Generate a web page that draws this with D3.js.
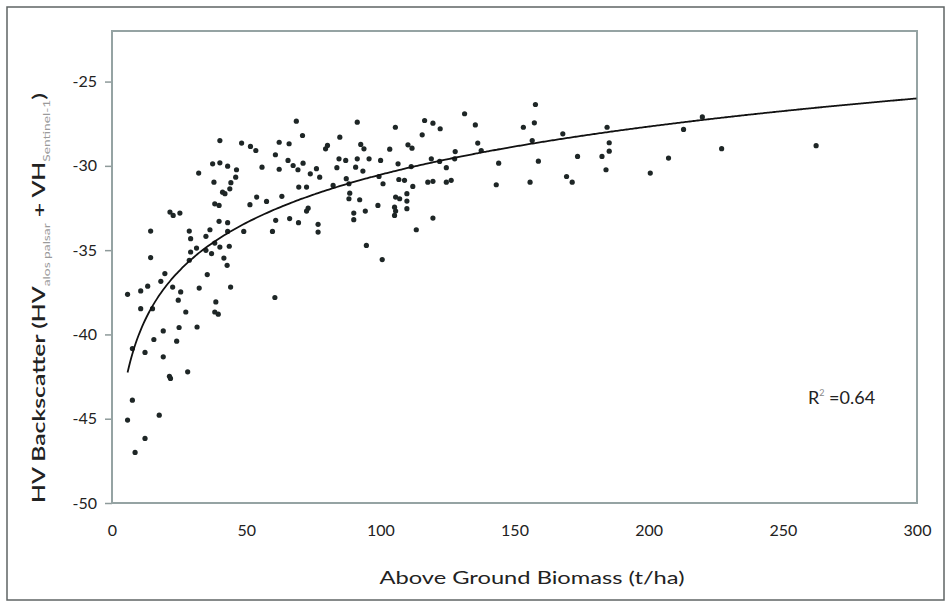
<!DOCTYPE html>
<html>
<head>
<meta charset="utf-8">
<script src="https://cdn.jsdelivr.net/npm/d3@7"></script>
<style>
  body { margin: 0; background: #fff; }
  svg text { font-family: Lato, "Open Sans", sans-serif; fill: #222; }
</style>
</head>
<body>
<svg id="main-svg" width="949" height="605"></svg>
<script>
// ----- //
// data
// ----- //
var biomass = [68.7, 91.4, 105.6, 71.0, 84.9, 40.2, 48.3, 51.6, 53.6, 62.3, 66.0, 80.3, 79.6, 92.7, 93.9, 103.5,
  60.9, 65.6, 67.5, 71.2, 84.6, 87.1, 91.4, 95.8, 100.1, 37.5, 40.2, 43.1, 46.4, 55.9, 62.3, 69.3, 73.9, 76.2,
  77.4, 83.8, 90.8, 93.5, 32.3, 46.1, 38.0, 44.3, 43.9, 41.2, 42.1, 69.6, 72.5, 53.9, 51.4, 57.6, 63.3, 82.4,
  87.3, 88.3, 99.5, 101.0, 38.3, 39.9, 21.6, 22.8, 25.3, 73.1, 72.5, 88.3, 92.3, 99.1, 105.3, 105.3, 90.1,
  90.1, 94.4, 61.0, 66.2, 69.5, 76.8, 76.8, 39.9, 43.1, 14.4, 28.8, 29.3, 35.0, 36.5, 43.1, 49.1, 59.8, 38.3,
  40.2, 43.7, 31.5, 29.3, 28.8, 35.0, 37.1, 14.4, 41.7, 42.9, 94.8, 100.7, 35.5, 19.7, 18.2, 10.7, 13.3, 22.6,
  25.6, 32.5, 44.2, 5.8, 24.7, 60.7, 38.7, 38.3, 39.6, 10.7, 15.1, 27.5, 19.1, 25.0, 31.7, 15.6, 24.1, 7.6,
  12.3, 19.1, 21.4, 21.8, 28.2, 7.6, 17.6, 5.8, 12.3, 8.6,
  157.8, 131.4, 116.5, 119.6, 122.3, 135.4, 153.3, 157.4, 115.6, 184.5, 168.0, 110.3, 111.8, 136.3, 137.6,
  127.9, 156.6, 185.3, 185.3, 106.6, 111.5, 119.0, 122.1, 124.6, 127.7, 144.1, 158.9, 173.5, 182.6, 207.4,
  184.1, 200.6, 106.9, 109.0, 112.1, 117.7, 119.6, 124.6, 126.4, 143.2, 155.8, 169.4, 171.5, 105.7, 107.2,
  109.9, 109.9, 109.9, 105.7, 119.6, 113.4, 88.6, 213.0, 227.2, 262.4, 220.0];

var backscatter = [-27.35, -27.41, -27.71, -28.20, -28.30, -28.50, -28.65, -28.85, -29.09, -28.60, -28.69, -28.79,
  -28.99, -28.73, -28.99, -29.01, -29.34, -29.68, -29.98, -29.84, -29.58, -29.68, -29.58, -29.58, -29.68, -29.88,
  -29.82, -30.02, -30.23, -30.08, -30.20, -30.23, -30.47, -30.17, -30.67, -30.11, -30.08, -30.31, -30.43, -30.67,
  -30.97, -31.00, -31.36, -31.56, -31.65, -31.26, -31.26, -31.85, -32.30, -32.11, -31.81, -31.16, -30.76, -31.06,
  -30.63, -31.06, -32.25, -32.35, -32.74, -32.94, -32.80, -32.51, -32.68, -31.95, -32.01, -32.35, -32.45, -32.94,
  -32.80, -33.19, -32.68, -33.23, -33.13, -33.37, -33.47, -33.93, -33.29, -33.37, -33.87, -33.87, -34.32, -34.18,
  -33.79, -33.89, -33.89, -33.89, -34.58, -34.82, -34.77, -34.88, -35.11, -35.60, -35.01, -35.21, -35.44, -35.47,
  -35.90, -34.72, -35.56, -36.45, -36.39, -36.85, -37.42, -37.14, -37.19, -37.48, -37.25, -37.19, -37.62, -37.97,
  -37.81, -38.07, -38.67, -38.80, -38.47, -38.47, -38.67, -39.79, -39.59, -39.56, -40.30, -40.40, -40.84, -41.07,
  -41.33, -42.48, -42.61, -42.22, -43.90, -44.79, -45.08, -46.17, -47.00,
  -26.36, -26.91, -27.31, -27.47, -27.80, -27.57, -27.71, -27.45, -28.16, -27.71, -28.10, -28.75, -28.95, -28.65,
  -29.09, -29.15, -28.50, -28.63, -29.13, -29.88, -30.04, -29.58, -29.74, -30.11, -29.58, -29.84, -29.72, -29.44,
  -29.44, -29.54, -30.23, -30.43, -30.81, -30.86, -31.22, -30.97, -30.92, -30.97, -30.86, -31.12, -30.97, -30.63,
  -30.97, -31.85, -31.95, -31.65, -32.09, -32.54, -32.68, -33.10, -33.79, -31.62, -27.84, -28.98, -28.80, -27.10];

// logarithmic trend line y = a ln(x) + b, drawn from x = 5.8 to 300
var trendCoef = { a: 4.12, b: -49.5 };
var trendRange = [5.8, 300];

var xTicks = [0, 50, 100, 150, 200, 250, 300];
var yTicks = [-50, -45, -40, -35, -30, -25];
var xTitle = "Above Ground Biomass (t/ha)";
var rSquared = "0.64";

// ----- //
// layout
// ----- //
var svg = d3.select("#main-svg");
var plot = { left: 112, right: 917, top: 31, bottom: 503 };

var x = d3.scaleLinear().domain([0, 300]).range([plot.left, plot.right]);
var y = d3.scaleLinear().domain([-50, -22]).range([plot.bottom, plot.top]);

// outer chart frame
svg.append("rect")
    .attr("x", 7).attr("y", 7)
    .attr("width", 937).attr("height", 593)
    .attr("fill", "#fff")
    .attr("stroke", "#5f6464")
    .attr("stroke-width", 1.5);

// y axis
var yAxis = svg.append("g")
    .attr("transform", `translate(${plot.left},0)`)
    .call(d3.axisLeft(y).tickValues(yTicks).tickSize(7).tickPadding(8).tickFormat(d => String(d)));
yAxis.select(".domain").remove();
yAxis.selectAll("line").attr("stroke", "#8e9a9a").attr("stroke-width", 1.5);
yAxis.selectAll("text").attr("font-size", 16).attr("fill", "#222");

// x axis
var xAxis = svg.append("g")
    .attr("transform", `translate(0,${plot.bottom})`)
    .call(d3.axisBottom(x).tickValues(xTicks).tickSize(0).tickPadding(22).tickFormat(d => String(d)));
xAxis.select(".domain").remove();
xAxis.selectAll("text").attr("font-size", 16).attr("fill", "#222");

// plot area border
svg.append("rect")
    .attr("x", plot.left).attr("y", plot.top)
    .attr("width", plot.right - plot.left).attr("height", plot.bottom - plot.top)
    .attr("fill", "none")
    .attr("stroke", "#95a3a3")
    .attr("stroke-width", 2);

// scatter points
var points = biomass.map((d, i) => ({ x: d, y: backscatter[i] }));
svg.append("g")
    .selectAll("circle")
    .data(points)
    .enter()
    .append("circle")
    .attr("cx", d => x(d.x))
    .attr("cy", d => y(d.y))
    .attr("r", 2.6)
    .attr("fill", "#1e2626");

// trend line
var trendX = d3.range(trendRange[0], trendRange[1] + 0.01, 1);
var trend = d3.line()
    .x(d => x(d))
    .y(d => y(trendCoef.a * Math.log(d) + trendCoef.b))
    .curve(d3.curveMonotoneX);
svg.append("path")
    .datum(trendX)
    .attr("d", trend)
    .attr("fill", "none")
    .attr("stroke", "#111")
    .attr("stroke-width", 1.8);

// axis titles
svg.append("text")
    .attr("x", 532).attr("y", 584)
    .attr("text-anchor", "middle")
    .attr("font-size", 18)
    .attr("textLength", 305)
    .attr("lengthAdjust", "spacingAndGlyphs")
    .text(xTitle);

var yTitle = svg.append("text")
    .attr("transform", "translate(45,503) rotate(-90)")
    .attr("font-size", 18)
    .attr("font-weight", 600)
    .attr("textLength", 410)
    .attr("lengthAdjust", "spacingAndGlyphs");
yTitle.append("tspan").text("HV Backscatter (HV");
yTitle.append("tspan").attr("font-size", 10).attr("font-weight", 400).attr("fill", "#9a9a9a").attr("dy", 5).text("alos palsar");
yTitle.append("tspan").attr("dy", -5).text(" + VH");
yTitle.append("tspan").attr("font-size", 10).attr("font-weight", 400).attr("fill", "#9a9a9a").attr("dy", 5).text("Sentinel-1");
yTitle.append("tspan").attr("dy", -5).text(")");

// R squared label
var rText = svg.append("text")
    .attr("x", 808).attr("y", 404)
    .attr("font-size", 18);
rText.append("tspan").text("R");
rText.append("tspan").attr("font-size", 9).attr("fill", "#888").attr("dy", -8).text("2");
rText.append("tspan").attr("dy", 8).text(" =" + rSquared);
</script>
</body>
</html>
